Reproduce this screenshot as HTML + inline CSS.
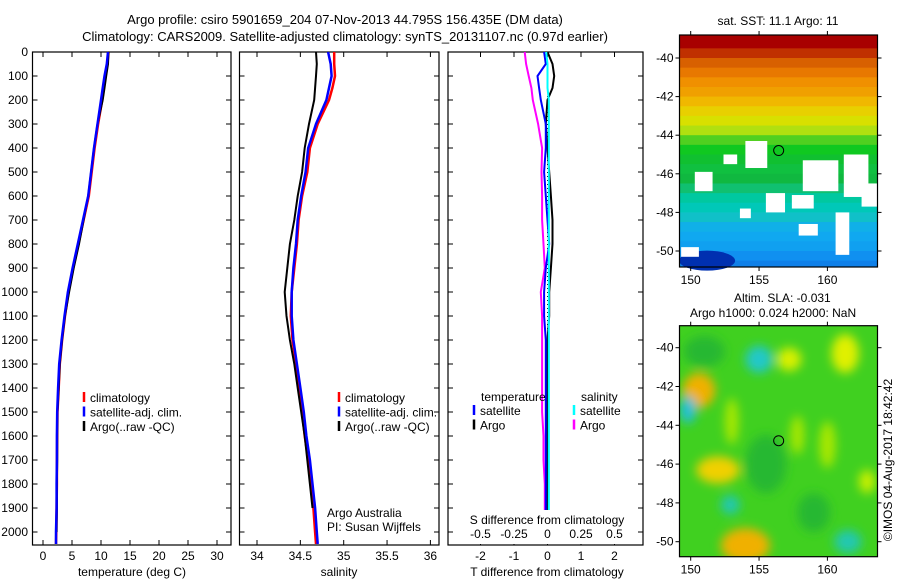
<!DOCTYPE html>
<html><head><meta charset="utf-8"><style>
body{margin:0;background:#fff;}
svg{display:block;font-family:"Liberation Sans",sans-serif;}
text{font-size:12px;fill:#000;}
</style></head><body>
<svg id="fig" width="900" height="580" viewBox="0 0 900 580" xmlns="http://www.w3.org/2000/svg">
<g>
<text x="345" y="24" text-anchor="middle" style="font-size:13px">Argo profile: csiro 5901659_204 07-Nov-2013 44.795S 156.435E (DM data)</text>
<text x="345" y="41" text-anchor="middle" style="font-size:13px">Climatology: CARS2009. Satellite-adjusted climatology: synTS_20131107.nc (0.97d earlier)</text>
</g>
<g id="p1"></g>
<g id="p2"></g>
<g id="p3"></g>
<g id="m1"></g>
<g id="m2"></g>
<text x="892" y="460" text-anchor="middle" transform="rotate(-90 892 460)">©IMOS 04-Aug-2017 18:42:42</text>
</svg>
<script>
// ---------- data ----------
const depthLevels=[0,50,100,150,200,300,400,500,600,700,800,900,1000,1100,1200,1300,1400,1500,1600,1700,1800,1900,2000,2050];
const tempClim=[11.3,11.1,10.8,10.5,10.2,9.5,8.9,8.4,7.9,7.0,6.1,5.2,4.4,3.8,3.3,2.9,2.7,2.5,2.45,2.4,2.4,2.35,2.3,2.25];
const tempSat =[11.2,11.0,10.6,10.3,10.0,9.4,8.8,8.3,7.8,6.9,6.0,5.1,4.3,3.7,3.2,2.8,2.6,2.45,2.4,2.4,2.35,2.35,2.25,2.25];
const tempArgo=[11.3,11.2,10.9,10.6,10.3,9.4,8.8,8.3,7.8,7.0,6.2,5.3,4.5,3.8,3.3,2.9,2.7,2.5,2.45,2.45,2.4,2.4,2.35,null];
const salClim=[34.89,34.89,34.90,34.87,34.83,34.70,34.61,34.58,34.52,34.48,34.46,34.43,34.40,34.39,34.41,34.45,34.48,34.52,34.55,34.59,34.62,34.65,34.67,34.68];
const salSat =[34.82,34.85,34.86,34.83,34.80,34.68,34.59,34.56,34.51,34.47,34.45,34.42,34.40,34.40,34.42,34.46,34.50,34.54,34.57,34.61,34.64,34.67,34.69,34.70];
const salArgo=[34.68,34.69,34.68,34.67,34.66,34.60,34.55,34.52,34.47,34.43,34.38,34.35,34.32,34.34,34.38,34.43,34.47,34.51,34.55,34.58,34.61,34.64,null,null];
const tDiffSat =[-0.1,-0.05,-0.3,-0.25,-0.2,-0.05,-0.05,-0.1,-0.05,0.0,0.05,-0.05,-0.1,-0.1,-0.05,-0.05,-0.05,-0.05,-0.05,-0.05,-0.05,-0.05,-0.05,null];
const tDiffArgo=[0.0,0.15,0.2,0.15,0.0,-0.05,0.0,0.05,0.1,0.15,0.15,0.1,0.05,0.05,0.0,0.0,0.0,0.0,0.0,0.0,0.0,0.0,0.0,null];
const sDiffSat =[-0.01,0.0,0.0,0.0,0.01,0.01,0.01,0.01,0.01,0.01,0.01,0.01,0.01,0.01,0.01,0.01,0.01,0.01,0.01,0.01,0.01,0.01,0.01,null];
const sDiffArgo=[-0.17,-0.16,-0.14,-0.12,-0.11,-0.07,-0.04,-0.045,-0.04,-0.04,-0.03,-0.02,-0.05,-0.04,-0.04,-0.04,-0.04,-0.04,-0.03,-0.03,-0.02,-0.02,-0.02,null];
const depthTicks=[0,100,200,300,400,500,600,700,800,900,1000,1100,1200,1300,1400,1500,1600,1700,1800,1900,2000];
const tempTicks=[0,5,10,15,20,25,30];
const salTicks=[34,34.5,35,35.5,36];
const tDiffTicks=[-2,-1,0,1,2];
const sDiffTicks=[-0.5,-0.25,0,0.25,0.5];
const sDiffLabels=['-0.5','-0.25','0','0.25','0.5'];
const lonTicks=[150,155,160];
const latTicks=[-40,-42,-44,-46,-48,-50];
const sstBandLat=[-38.8,-39.5,-40.0,-40.5,-41.0,-41.5,-42.0,-42.5,-43.0,-43.5,-44.0,-44.5,-45.0,-45.5,-46.0,-46.5,-47.0,-47.5,-48.0,-48.5,-49.0,-49.5,-50.0,-50.5,-50.8];
const sstBandCol=['#a80000','#c03000','#d86000','#e87800','#f09000','#f0a000','#f0b800','#e8d000','#d8e000','#b0e010','#50d020','#10c820','#10c030','#10c040','#10b840','#10c070','#00c8a0','#00c8b8','#10c0c8','#10b0e8','#10a8f0','#10a0f0','#1090f0','#1080e8'];
const sstHoles=[[150.3,-45.9,1.3,1.0],[152.4,-45.0,1.0,0.5],[154.0,-44.3,1.6,1.4],[155.5,-47.0,1.4,1.0],[157.4,-47.1,1.6,0.7],[158.2,-45.3,2.6,1.6],[161.2,-45.0,1.8,2.2],[149.3,-49.8,1.3,0.5],[160.6,-48.0,1.0,2.2],[162.5,-46.5,1.3,1.2],[153.6,-47.8,0.8,0.5],[157.9,-48.6,1.4,0.6]];
const slaBlobs=[[150.6,-42.2,1.2,0.9,'#f0b000'],[152.0,-46.3,1.6,0.7,'#f0d000'],[154.0,-50.2,1.8,0.9,'#f0b000'],[157.2,-40.6,0.9,0.6,'#d8f000'],[161.3,-40.3,1.0,1.0,'#e0f000'],[155.0,-40.6,1.0,0.7,'#20c8c8'],[149.8,-43.2,0.6,0.7,'#20c0d8'],[152.9,-48.1,0.7,0.5,'#20c8b0'],[161.5,-50.0,1.0,0.6,'#20c8b0'],[157.8,-44.5,0.5,1.0,'#a8e800'],[162.9,-46.9,0.6,0.6,'#c8f000'],[153.0,-43.8,0.5,1.2,'#a8e800'],[160.0,-45.0,0.6,1.2,'#a8e800'],[155.5,-46.0,1.5,1.5,'#28b830'],[151.0,-40.2,1.5,0.8,'#28b830'],[159.0,-48.5,1.2,1.0,'#28b830']];

// ---------- helpers ----------
const NS='http://www.w3.org/2000/svg';
function mk(tag,attrs,parent){const e=document.createElementNS(NS,tag);for(const k in attrs)e.setAttribute(k,attrs[k]);if(parent)parent.appendChild(e);return e;}
const yD=d=>52+0.24*d;

function panel(g,x0,x1,xs,ticks,labels){
  const r=mk('rect',{x:x0,y:52,width:x1-x0,height:493,fill:'none',stroke:'#000','stroke-width':1.2},g);
  
  
  depthTicks.forEach(d=>{
    mk('line',{x1:x0,x2:x0+5,y1:yD(d),y2:yD(d),stroke:'#000'},g);
    mk('line',{x1:x1-5,x2:x1,y1:yD(d),y2:yD(d),stroke:'#000'},g);
  });
  ticks.forEach((t,i)=>{
    const x=xs(t);
    mk('line',{x1:x,x2:x,y1:545,y2:540,stroke:'#000'},g);
    mk('line',{x1:x,x2:x,y1:52,y2:57,stroke:'#000'},g);
    const tx=mk('text',{x:x,y:560,'text-anchor':'middle'},g);tx.textContent=labels?labels[i]:String(t);
    
    
  });
}
function series(g,xs,vals,col,name,w){
  let pts=[];const segs=[];
  vals.forEach((v,i)=>{if(v===null){if(pts.length)segs.push(pts);pts=[];}else pts.push(xs(v).toFixed(1)+','+yD(depthLevels[i]).toFixed(1));});
  if(pts.length)segs.push(pts);
  segs.forEach(s=>{const p=mk('polyline',{points:s.join(' '),fill:'none',stroke:col,'stroke-width':w||2.5},g);
    
    });
}
function legend(g,x,y,items){
  items.forEach((it,i)=>{
    mk('line',{x1:x,x2:x,y1:y+i*14.5-10,y2:y+i*14.5,stroke:it[1],'stroke-width':2.5},g);
    const t=mk('text',{x:x+6,y:y+i*14.5},g);t.textContent=it[0];
    
    
  });
}

// ---------- panel 1 ----------
const p1=document.getElementById('p1');
const xT=t=>43+5.8*t;
panel(p1,32.5,231,xT,tempTicks);
depthTicks.forEach(d=>{const t=mk('text',{x:28,y:yD(d)+4,'text-anchor':'end'},p1);t.textContent=d;
  
  });
series(p1,xT,tempClim,'#ff0000','temp-climatology-line');
series(p1,xT,tempArgo,'#000000','temp-argo-line',2);
series(p1,xT,tempSat,'#0000ff','temp-satellite-line');
legend(p1,84,402,[['climatology','#ff0000'],['satellite-adj. clim.','#0000ff'],['Argo(..raw -QC)','#000000']]);
let t1=mk('text',{x:132,y:576,'text-anchor':'middle'},p1);t1.textContent='temperature (deg C)';



// ---------- panel 2 ----------
const p2=document.getElementById('p2');
const xS=s=>257+86.7*(s-34);
panel(p2,239.5,439,xS,salTicks);
series(p2,xS,salClim,'#ff0000','sal-climatology-line');
series(p2,xS,salArgo,'#000000','sal-argo-line',2);
series(p2,xS,salSat,'#0000ff','sal-satellite-line');
legend(p2,339,402,[['climatology','#ff0000'],['satellite-adj. clim.','#0000ff'],['Argo(..raw -QC)','#000000']]);
let c1=mk('text',{x:327,y:517},p2);c1.textContent='Argo Australia';


let c2=mk('text',{x:327,y:531},p2);c2.textContent='PI: Susan Wijffels';


let t2=mk('text',{x:339,y:576,'text-anchor':'middle'},p2);t2.textContent='salinity';



// ---------- panel 3 ----------
const p3=document.getElementById('p3');
const xTd=v=>547.5+33.5*v;
const xSd=v=>547.5+134*v;
panel(p3,448,643,xTd,tDiffTicks);
mk('line',{x1:xTd(0),x2:xTd(0),y1:52,y2:545,stroke:'#000','stroke-dasharray':'1,3'},p3);
series(p3,xSd,sDiffArgo,'#ff00ff','sal-diff-argo-line',2);
series(p3,xTd,tDiffArgo,'#000000','temp-diff-argo-line',2);
series(p3,xTd,tDiffSat,'#0000ff','temp-diff-sat-line',2);
series(p3,xSd,sDiffSat,'#00ffff','sal-diff-sat-line',2);
const sk=mk('rect',{x:465,y:510,width:170,height:34,fill:'#fff'},p3);


sDiffTicks.forEach((s,i)=>{const t=mk('text',{x:xSd(s),y:538,'text-anchor':'middle'},p3);t.textContent=sDiffLabels[i];
  
  });
let st=mk('text',{x:547,y:524,'text-anchor':'middle'},p3);st.textContent='S difference from climatology';


let tt=mk('text',{x:547,y:576,'text-anchor':'middle'},p3);tt.textContent='T difference from climatology';


let lh1=mk('text',{x:481,y:401},p3);lh1.textContent='temperature';


let lh2=mk('text',{x:581,y:401},p3);lh2.textContent='salinity';


legend(p3,474,415,[['satellite','#0000ff'],['Argo','#000000']]);
legend(p3,574,415,[['satellite','#00ffff'],['Argo','#ff00ff']]);

// ---------- maps ----------
function mapAxes(g,top,bot,lat40,lat50){
  const L=679.5,R=877.5;
  const xl=lon=>690.7+13.67*(lon-150);
  const yl=lat=>lat40+(lat50-lat40)*(lat+40)/(-10);
  return {L,R,xl,yl,frame(){
    const f=mk('rect',{x:L,y:top,width:R-L,height:bot-top,fill:'none',stroke:'#000','stroke-width':1.2},g);
    
    
    lonTicks.forEach(lo=>{mk('line',{x1:xl(lo),x2:xl(lo),y1:top-4,y2:top,stroke:'#000'},g);
      mk('line',{x1:xl(lo),x2:xl(lo),y1:bot,y2:bot+4,stroke:'#000'},g);
      const t=mk('text',{x:xl(lo),y:bot+17,'text-anchor':'middle'},g);t.textContent=lo;
      
      });
    latTicks.forEach(la=>{mk('line',{x1:L-4,x2:L,y1:yl(la),y2:yl(la),stroke:'#000'},g);
      mk('line',{x1:R,x2:R+4,y1:yl(la),y2:yl(la),stroke:'#000'},g);
      const t=mk('text',{x:L-6,y:yl(la)+4,'text-anchor':'end'},g);t.textContent=la;
      
      });
    const c=mk('circle',{cx:xl(156.435),cy:yl(-44.795),r:5,fill:'none',stroke:'#000'},g);
    
    
  }};
}
const m1=document.getElementById('m1');
const A1=mapAxes(m1,35,267,58,251);
sstBandCol.forEach((col,i)=>{
  const y0=i===0?35:A1.yl(sstBandLat[i]);
  const y1=i===sstBandCol.length-1?267:A1.yl(sstBandLat[i+1])+0.6;
  const r=mk('rect',{x:A1.L,y:y0,width:A1.R-A1.L,height:Math.max(0,y1-y0),fill:col},m1);
  
  
});
const db=mk('ellipse',{cx:A1.xl(151.2),cy:A1.yl(-50.5),rx:28,ry:10,fill:'#0030b0'},m1);


sstHoles.forEach(h=>{const r=mk('rect',{x:A1.xl(h[0]),y:A1.yl(h[1]),width:h[2]*13.67,height:h[3]*19.3,fill:'#fff'},m1);
  
  });
A1.frame();
let mt1=mk('text',{x:778,y:25,'text-anchor':'middle'},m1);mt1.textContent='sat. SST: 11.1 Argo: 11';



const m2=document.getElementById('m2');
const A2=mapAxes(m2,325.7,556.7,347.7,541.7);
const defs=mk('defs',{},m2);
const flt=mk('filter',{id:'blur',x:'-50%',y:'-50%',width:'200%',height:'200%'},defs);
mk('feGaussianBlur',{stdDeviation:5},flt);
const clip=mk('clipPath',{id:'c2'},defs);
mk('rect',{x:A2.L,y:325.7,width:A2.R-A2.L,height:231},clip);
const bg=mk('rect',{x:A2.L,y:325.7,width:A2.R-A2.L,height:231,fill:'#40d020'},m2);


const bl=mk('g',{'clip-path':'url(#c2)',filter:'url(#blur)'},m2);
slaBlobs.forEach(b=>{const e=mk('ellipse',{cx:A2.xl(b[0]),cy:A2.yl(b[1]),rx:b[2]*13.67,ry:b[3]*19.4,fill:b[4]},bl);
  
  });
A2.frame();
let mt2=mk('text',{x:734,y:302},m2);mt2.textContent='Altim. SLA: -0.031';


let mt3=mk('text',{x:690,y:317},m2);mt3.textContent='Argo h1000: 0.024 h2000: NaN';


</script>
</body></html>
